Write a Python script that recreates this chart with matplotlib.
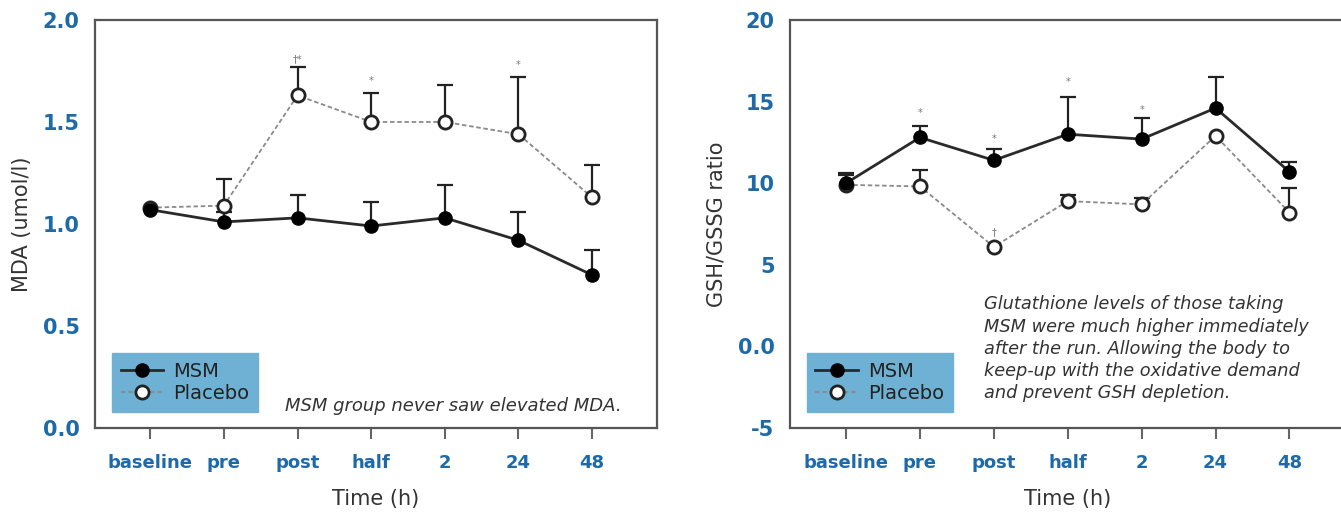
import matplotlib
matplotlib.use("Agg")
import matplotlib.pyplot as plt
import numpy as np

plt.rcParams["font.family"] = ["DejaVu Sans"]

time_labels = ["baseline", "pre", "post", "half", "2", "24", "48"]

# MDA (umol/l)
mda_msm = [1.07, 1.01, 1.03, 0.99, 1.03, 0.92, 0.75]
mda_msm_err = [0.0, 0.05, 0.11, 0.12, 0.16, 0.14, 0.12]
mda_pla = [1.08, 1.09, 1.63, 1.50, 1.50, 1.44, 1.13]
mda_pla_err = [0.0, 0.13, 0.14, 0.14, 0.18, 0.28, 0.16]
mda_marks = [(2, 1.81, "\u2020*"), (3, 1.70, "*"), (5, 1.78, "*")]

# GSH/GSSG ratio
gsh_msm = [10.0, 12.8, 11.4, 13.0, 12.7, 14.6, 10.7]
gsh_msm_err = [0.6, 0.7, 0.7, 2.3, 1.3, 1.9, 0.6]
gsh_pla = [9.9, 9.8, 6.1, 8.9, 8.7, 12.9, 8.2]
gsh_pla_err = [0.6, 1.0, 0.0, 0.4, 0.4, 0.0, 1.5]
gsh_marks = [(1, 14.3, "*"), (2, 12.7, "*"), (3, 16.2, "*"), (4, 14.5, "*"), (2, 7.0, "\u2020")]

blue = "#1e6aa8"
legend_bg = "#6fb1d4"


def upper_bars(ax, x, y, err):
    x = np.asarray(x)
    y = np.asarray(y, dtype=float)
    err = np.asarray(err, dtype=float)
    keep = err > 0
    eb = ax.errorbar(x[keep], y[keep], yerr=[np.zeros(keep.sum()), err[keep]], fmt="none",
                     ecolor="#222222", elinewidth=1.6, capsize=5.5, capthick=1.6, zorder=2)
    eb[1][0].set_visible(False)  # hide lower cap


def draw_panel(ax, msm, msm_err, pla, pla_err, marks, ylabel):
    x = np.arange(len(time_labels))
    upper_bars(ax, x, pla, pla_err)
    upper_bars(ax, x, msm, msm_err)
    ax.plot(x, msm, color="#2a2a2a", lw=2, marker="o", ms=9.5,
            mfc="black", mec="black", label="MSM", zorder=4)
    ax.plot(x, pla, color="#8a8a8a", lw=1.3, ls=(0, (2.5, 1.5)), marker="o", ms=9.5,
            mfc="white", mec="#222222", mew=2, label="Placebo", zorder=3)
    for xi, yi, s in marks:
        ax.text(xi, yi, s, ha="center", va="center", fontsize=7, color="#777777")

    ax.set_xticks(x)
    ax.set_xticklabels(time_labels)
    for sp in ax.spines.values():
        sp.set_color("#555555")
        sp.set_linewidth(1.6)
    ax.tick_params(axis="x", direction="out", length=8, width=1.5, color="#666666",
                   pad=11, labelsize=13, labelcolor=blue)
    ax.tick_params(axis="y", direction="out", length=0, pad=11,
                   labelsize=15, labelcolor=blue)
    for lab in ax.get_xticklabels() + ax.get_yticklabels():
        lab.set_fontweight("bold")
    ax.set_xlabel("Time (h)", fontsize=15, color="#333333", labelpad=12)
    ax.set_ylabel(ylabel, fontsize=15, color="#333333", labelpad=8)

    leg = ax.legend(loc="lower left", bbox_to_anchor=(0.03, 0.04), frameon=True,
                    fancybox=False, facecolor=legend_bg, edgecolor=legend_bg,
                    framealpha=1, fontsize=14, handlelength=2.2, handletextpad=0.5,
                    borderpad=0.45, labelspacing=0.15, borderaxespad=0)
    leg._legend_box.align = "left"
    for t in leg.get_texts():
        t.set_color("#222222")
    return leg


fig = plt.figure(figsize=(13.41, 5.12), dpi=100)

ax1 = fig.add_axes([0.0708, 0.1641, 0.4191, 0.7969])
leg1 = draw_panel(ax1, mda_msm, mda_msm_err, mda_pla, mda_pla_err, mda_marks, "MDA (umol/l)")
ax1.set_xlim(-0.75, 6.88)
ax1.set_ylim(0, 2.0)
ax1.set_yticks([0, 0.5, 1.0, 1.5, 2.0])
ax1.set_yticklabels(["0.0", "0.5", "1.0", "1.5", "2.0"])
for lab in ax1.get_yticklabels():
    lab.set_fontweight("bold")
ax1.text(0.338, 0.055, "MSM group never saw elevated MDA.", transform=ax1.transAxes,
         fontsize=13, style="italic", color="#333333", ha="left", va="center")

ax2 = fig.add_axes([0.589, 0.1641, 0.415, 0.7969])
leg2 = draw_panel(ax2, gsh_msm, gsh_msm_err, gsh_pla, gsh_pla_err, gsh_marks, "GSH/GSSG ratio")
ax2.set_xlim(-0.76, 6.77)
ax2.set_ylim(-5, 20)
ax2.set_yticks([-5, 0, 5, 10, 15, 20])
ax2.set_yticklabels(["-5", "0.0", "5", "10", "15", "20"])
for lab in ax2.get_yticklabels():
    lab.set_fontweight("bold")
note = ("Glutathione levels of those taking\n"
        "MSM were much higher immediately\n"
        "after the run. Allowing the body to\n"
        "keep-up with the oxidative demand\n"
        "and prevent GSH depletion.")
ax2.text(0.348, 0.325, note, transform=ax2.transAxes, fontsize=12.8, style="italic",
         color="#333333", ha="left", va="top", linespacing=1.3)

fig.savefig("out.png", dpi=100)
